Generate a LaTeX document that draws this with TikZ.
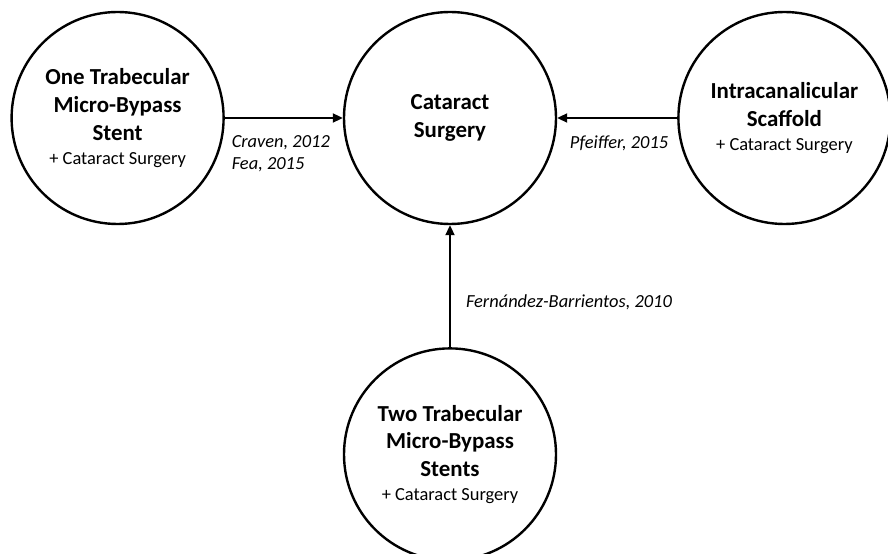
\documentclass[tikz,border=0pt]{standalone}
\usepackage{fontspec}
\setmainfont{Carlito}
\usetikzlibrary{arrows.meta,positioning}

\begin{document}
\begin{tikzpicture}[
  x=1bp, y=-1bp,
  stage/.style={draw, circle, line width=2.4bp, minimum size=212bp, inner sep=0pt, align=center,
    font=\fontsize{23}{28}\selectfont\bfseries},
  cite/.style={font=\fontsize{18.5}{22}\selectfont\itshape, align=left, inner sep=0pt},
  arrow/.style={-{Triangle[length=10bp, width=9bp]}, line width=2bp}
]
\useasboundingbox (0,0) rectangle (888,554);
\newcommand{\plus}{\\[-4bp]{\fontsize{18.5}{22}\selectfont\mdseries + Cataract Surgery}}
\node[stage] (cat) at (450,118) {Cataract\\Surgery};
\node[stage, left=118bp of cat] (one) {One Trabecular\\Micro-Bypass\\Stent\plus};
\node[stage, right=120bp of cat] (scaf) {Intracanalicular\\Scaffold\plus};
\node[stage, below=122bp of cat] (two) {Two Trabecular\\Micro-Bypass\\Stents\plus};
\draw[arrow] (one) -- (cat)
  node[cite, at start, anchor=north west, xshift=6bp, yshift=-17bp] {Craven, 2012\\Fea, 2015};
\draw[arrow] (scaf) -- (cat)
  node[cite, at start, anchor=north east, xshift=-8bp, yshift=-17bp] {Pfeiffer, 2015};
\draw[arrow] (two) -- (cat)
  node[cite, pos=0.37, anchor=west, xshift=15bp] {Fernández-Barrientos, 2010};
\end{tikzpicture}
\end{document}
